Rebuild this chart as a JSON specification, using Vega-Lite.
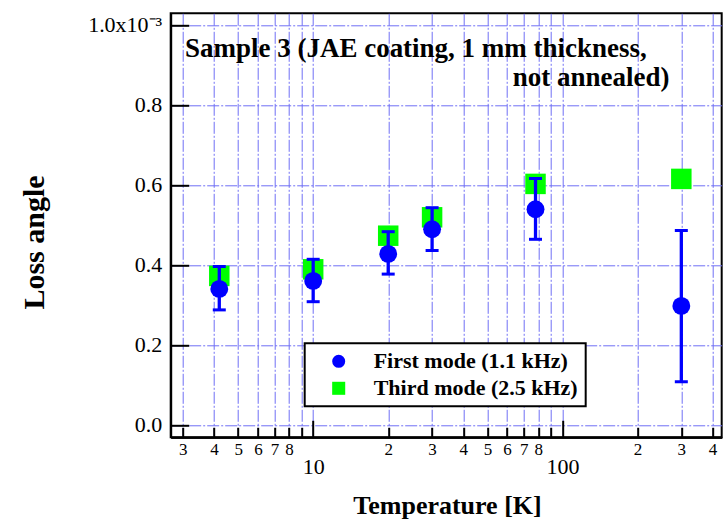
{
  "$schema": "https://vega.github.io/schema/vega-lite/v6.json",
  "width": 551,
  "height": 424,
  "autosize": {"type": "none"},
  "padding": {"left": 170.7, "top": 13.3, "right": 1, "bottom": 88},
  "background": "white",
  "datasets": {
    "pts": [
      {"T": 4.2, "mode": "First mode (1.1 kHz)", "loss": 0.34, "lo": 0.2875, "hi": 0.396},
      {"T": 10, "mode": "First mode (1.1 kHz)", "loss": 0.36, "lo": 0.308, "hi": 0.414},
      {"T": 20, "mode": "First mode (1.1 kHz)", "loss": 0.4275, "lo": 0.377, "hi": 0.483},
      {"T": 30, "mode": "First mode (1.1 kHz)", "loss": 0.489, "lo": 0.436, "hi": 0.543},
      {"T": 78, "mode": "First mode (1.1 kHz)", "loss": 0.539, "lo": 0.464, "hi": 0.616},
      {"T": 300, "mode": "First mode (1.1 kHz)", "loss": 0.2975, "lo": 0.108, "hi": 0.486},
      {"T": 4.2, "mode": "Third mode (2.5 kHz)", "loss": 0.3725},
      {"T": 10, "mode": "Third mode (2.5 kHz)", "loss": 0.389},
      {"T": 20, "mode": "Third mode (2.5 kHz)", "loss": 0.473},
      {"T": 30, "mode": "Third mode (2.5 kHz)", "loss": 0.519},
      {"T": 78, "mode": "Third mode (2.5 kHz)", "loss": 0.6025},
      {"T": 300, "mode": "Third mode (2.5 kHz)", "loss": 0.615}
    ],
    "notes": [
      {"line": 1, "text": "Sample 3 (JAE coating, 1 mm thickness,"},
      {"line": 2, "text": "not annealed)"}
    ]
  },
  "config": {
    "font": "Liberation Serif",
    "view": {"stroke": "black", "strokeWidth": 2},
    "axis": {
      "domainColor": "black",
      "domainWidth": 2,
      "tickColor": "black",
      "tickWidth": 2,
      "labelColor": "black",
      "titleColor": "black",
      "labelFont": "Liberation Serif",
      "titleFont": "Liberation Serif",
      "gridColor": "#6e6ef5",
      "gridWidth": 1,
      "gridDash": [12, 2, 2, 2],
      "gridOpacity": 1
    },
    "legend": {
      "orient": "none",
      "legendX": 134,
      "legendY": 330,
      "strokeColor": "black",
      "strokeWidth": 2,
      "fillColor": "white",
      "padding": 7,
      "symbolOffset": 16,
      "symbolSize": 170,
      "symbolStrokeWidth": 0,
      "labelFont": "Liberation Serif",
      "labelFontSize": 22,
      "labelFontWeight": "bold",
      "labelColor": "black",
      "labelOffset": 24,
      "labelLimit": 400,
      "rowPadding": 5
    }
  },
  "resolve": {"axis": {"x": "independent"}},
  "layer": [
    {
      "data": {"name": "pts"},
      "transform": [{"filter": "datum.mode == 'Third mode (2.5 kHz)'"}],
      "mark": {"type": "point", "filled": true, "size": 420, "opacity": 1, "strokeWidth": 0},
      "encoding": {
        "x": {
          "field": "T", "type": "quantitative",
          "scale": {"type": "log", "domain": [2.681, 435.6], "nice": false},
          "axis": {
            "orient": "bottom",
            "values": [3, 4, 5, 6, 7, 8, 9, 20, 30, 40, 50, 60, 70, 80, 90, 200, 300, 400],
            "labelExpr": "(datum.value == 9 || datum.value == 90) ? '' : (datum.value < 10 ? format(datum.value, 'd') : datum.value < 100 ? format(datum.value / 10, 'd') : format(datum.value / 100, 'd'))",
            "tickSize": -10,
            "labelPadding": 14.7,
            "labelFontSize": 17,
            "labelBaseline": "top",
            "labelFlush": false,
            "labelOverlap": false,
            "grid": true,
            "title": "Temperature [K]",
            "titleFontSize": 26,
            "titleFontWeight": "bold",
            "titleX": 276.3,
            "titleY": 76.7,
            "titleAlign": "center",
            "titleBaseline": "alphabetic"
          }
        },
        "y": {
          "field": "loss", "type": "quantitative",
          "scale": {"domain": [-0.031, 1.029], "nice": false, "zero": false},
          "title": "Loss angle",
          "axis": {
            "values": [0, 0.2, 0.4, 0.6, 0.8, 1.0],
            "labelExpr": "datum.value > 0.99 ? '1.0x10⁻³' : format(datum.value, '.1f')",
            "tickSize": -18,
            "labelPadding": 27,
            "labelFontSize": 22,
            "labelBaseline": "middle",
            "labelFlush": false,
            "labelOverlap": false,
            "grid": true,
            "titleFontSize": 30,
            "titleFontWeight": "bold",
            "titleX": -135.7,
            "titleY": 228.7,
            "titleAlign": "center",
            "titleBaseline": "middle",
            "titleAngle": -90
          }
        },
        "color": {
          "field": "mode", "type": "nominal",
          "scale": {"domain": ["First mode (1.1 kHz)", "Third mode (2.5 kHz)"], "range": ["#0000ff", "#00ff00"]},
          "legend": {"title": null}
        },
        "shape": {
          "field": "mode", "type": "nominal",
          "scale": {"domain": ["First mode (1.1 kHz)", "Third mode (2.5 kHz)"], "range": ["circle", "square"]},
          "legend": {"title": null}
        }
      }
    },
    {
      "data": {"name": "pts"},
      "transform": [{"filter": "datum.mode == 'First mode (1.1 kHz)'"}],
      "mark": {"type": "rule", "color": "#0000ff", "strokeWidth": 3.3},
      "encoding": {
        "x": {
          "field": "T", "type": "quantitative",
          "axis": {
            "orient": "bottom",
            "values": [10, 100],
            "format": "d",
            "tickSize": -17,
            "labelPadding": 36.5,
            "labelFontSize": 22,
            "labelBaseline": "top",
            "labelFlush": false,
            "labelOverlap": false,
            "grid": true,
            "title": null
          }
        },
        "y": {"field": "lo", "type": "quantitative", "title": "Loss angle"},
        "y2": {"field": "hi"}
      }
    },
    {
      "data": {"name": "pts"},
      "transform": [{"filter": "datum.mode == 'First mode (1.1 kHz)'"}],
      "mark": {"type": "tick", "orient": "horizontal", "color": "#0000ff", "size": 13, "thickness": 3, "opacity": 1},
      "encoding": {
        "x": {"field": "T", "type": "quantitative", "axis": null},
        "y": {"field": "lo", "type": "quantitative", "title": "Loss angle"}
      }
    },
    {
      "data": {"name": "pts"},
      "transform": [{"filter": "datum.mode == 'First mode (1.1 kHz)'"}],
      "mark": {"type": "tick", "orient": "horizontal", "color": "#0000ff", "size": 13, "thickness": 3, "opacity": 1},
      "encoding": {
        "x": {"field": "T", "type": "quantitative", "axis": null},
        "y": {"field": "hi", "type": "quantitative", "title": "Loss angle"}
      }
    },
    {
      "data": {"name": "pts"},
      "transform": [{"filter": "datum.mode == 'First mode (1.1 kHz)'"}],
      "mark": {"type": "point", "filled": true, "size": 320, "opacity": 1, "strokeWidth": 0},
      "encoding": {
        "x": {"field": "T", "type": "quantitative", "axis": null},
        "y": {"field": "loss", "type": "quantitative", "title": "Loss angle"},
        "color": {"field": "mode", "type": "nominal"},
        "shape": {"field": "mode", "type": "nominal"}
      }
    },
    {
      "data": {"name": "notes"},
      "transform": [{"filter": "datum.line == 1"}],
      "mark": {"type": "text", "align": "left", "baseline": "alphabetic", "font": "Liberation Serif", "fontWeight": "bold", "fontSize": 27, "color": "black"},
      "encoding": {
        "x": {"datum": 3.06, "axis": null},
        "y": {"datum": 0.9208},
        "text": {"field": "text"}
      }
    },
    {
      "data": {"name": "notes"},
      "transform": [{"filter": "datum.line == 2"}],
      "mark": {"type": "text", "align": "right", "baseline": "alphabetic", "font": "Liberation Serif", "fontWeight": "bold", "fontSize": 27, "color": "black"},
      "encoding": {
        "x": {"datum": 269, "axis": null},
        "y": {"datum": 0.8475},
        "text": {"field": "text"}
      }
    }
  ]
}
